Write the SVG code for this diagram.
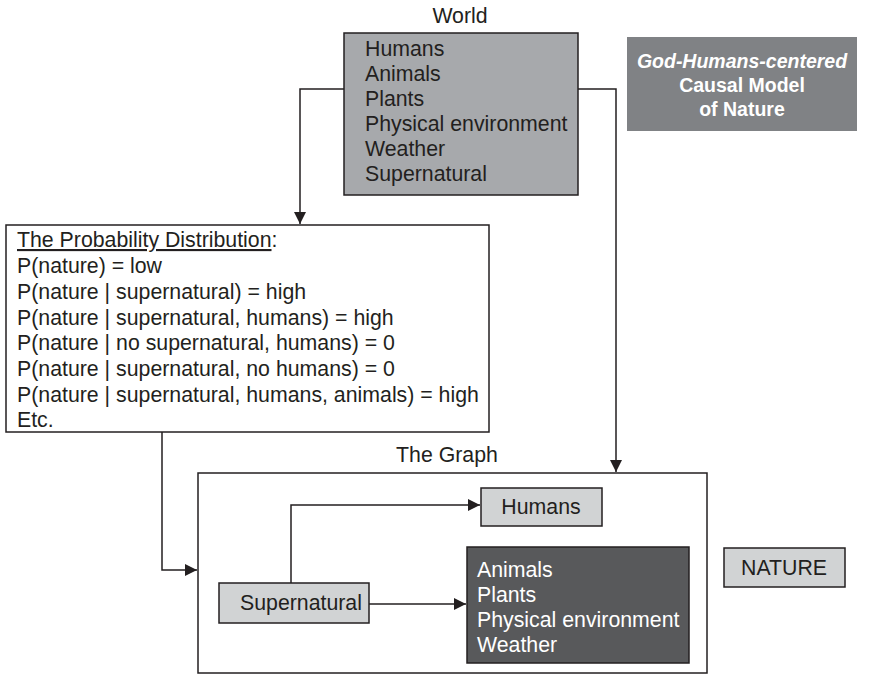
<svg xmlns="http://www.w3.org/2000/svg" width="869" height="675" viewBox="0 0 869 675">
<style>
.t{font-family:"Liberation Sans",Arial,sans-serif;font-size:21.3px;fill:#231f20}
.w{fill:#ffffff}
.b{font-weight:bold;font-size:19.5px;fill:#ffffff}
.box{stroke:#231f20;stroke-width:1.5}
.c{fill:none;stroke:#231f20;stroke-width:1.5}
</style>
<defs>
<marker id="ah" markerWidth="13" markerHeight="13" refX="12" refY="6" orient="auto" markerUnits="userSpaceOnUse">
<path d="M0,0 L12,6 L0,12 z" fill="#231f20"/>
</marker>
</defs>
<rect width="869" height="675" fill="#ffffff"/>
<g id="connectors">
<path class="c" d="M344,89 H300 V224" marker-end="url(#ah)"/>
<path class="c" d="M578,89 H616 V472" marker-end="url(#ah)"/>
<path class="c" d="M162,432 V570 H197" marker-end="url(#ah)"/>
<path class="c" d="M291,583 V505 H480" marker-end="url(#ah)"/>
<path class="c" d="M369,604 H466" marker-end="url(#ah)"/>
</g>
<g id="world">
<text class="t" x="460" y="23" text-anchor="middle">World</text>
<rect class="box" x="344" y="33" width="234" height="162" fill="#a7a9ac"/>
<text class="t" x="365" y="56">Humans</text>
<text class="t" x="365" y="81">Animals</text>
<text class="t" x="365" y="106">Plants</text>
<text class="t" x="365" y="131">Physical environment</text>
<text class="t" x="365" y="156">Weather</text>
<text class="t" x="365" y="181">Supernatural</text>
</g>
<g id="title">
<rect x="627" y="37" width="230" height="94" fill="#808285"/>
<text class="t b" x="742" y="68" text-anchor="middle" font-style="italic">God-Humans-centered</text>
<text class="t b" x="742" y="92" text-anchor="middle">Causal Model</text>
<text class="t b" x="742" y="116" text-anchor="middle">of Nature</text>
</g>
<g id="probability">
<rect class="box" x="6" y="225" width="483" height="207" fill="#ffffff"/>
<text class="t" x="17" y="247"><tspan text-decoration="underline">The Probability Distribution</tspan>:</text>
<text class="t" x="17" y="273">P(nature) = low</text>
<text class="t" x="17" y="299">P(nature | supernatural) = high</text>
<text class="t" x="17" y="325">P(nature | supernatural, humans) = high</text>
<text class="t" x="17" y="350">P(nature | no supernatural, humans) = 0</text>
<text class="t" x="17" y="376">P(nature | supernatural, no humans) = 0</text>
<text class="t" x="17" y="402">P(nature | supernatural, humans, animals) = high</text>
<text class="t" x="17" y="427">Etc.</text>
</g>
<g id="graph">
<text class="t" x="447" y="462" text-anchor="middle">The Graph</text>
<rect class="box" x="198" y="473" width="509" height="200" fill="none"/>
</g>
<g id="humans">
<rect class="box" x="481" y="488" width="121" height="38" fill="#d1d3d4"/>
<text class="t" x="541" y="514" text-anchor="middle">Humans</text>
</g>
<g id="supernatural">
<rect class="box" x="219" y="583" width="150" height="40" fill="#d1d3d4"/>
<text class="t" x="240" y="610">Supernatural</text>
</g>
<g id="others">
<rect class="box" x="467" y="547" width="222" height="116" fill="#58595b"/>
<text class="t w" x="477" y="577">Animals</text>
<text class="t w" x="477" y="602">Plants</text>
<text class="t w" x="477" y="627">Physical environment</text>
<text class="t w" x="477" y="652">Weather</text>
</g>
<g id="nature">
<rect class="box" x="724" y="548" width="121" height="39" fill="#d1d3d4"/>
<text class="t" x="784" y="575" text-anchor="middle">NATURE</text>
</g>
</svg>
